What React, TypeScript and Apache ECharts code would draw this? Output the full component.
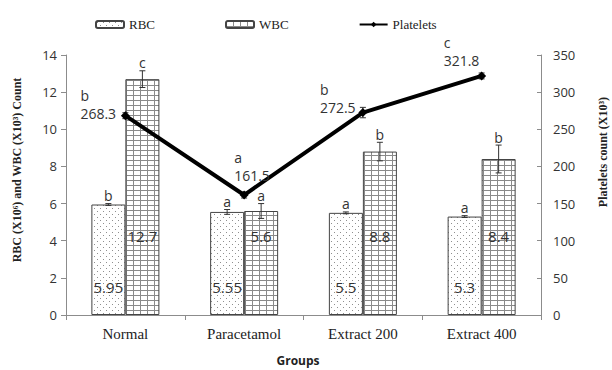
import React, { useEffect, useRef } from "react";
import * as echarts from "echarts";

const categories = ["Normal", "Paracetamol", "Extract 200", "Extract 400"];
const rbcValues = [5.95, 5.55, 5.5, 5.3];
const rbcErrors = [0.05, 0.13, 0.05, 0.05];
const rbcLetters = ["b", "a", "a", "a"];
const wbcValues = [12.7, 5.6, 8.8, 8.4];
const wbcErrors = [0.45, 0.4, 0.5, 0.75];
const wbcLetters = ["c", "a", "b", "b"];
const plateletValues = [268.3, 161.5, 272.5, 321.8];
const plateletErrors = [4, 4, 7, 4];
const plateletLetters = ["b", "a", "b", "c"];
const leftAxisMax = 14;
const leftAxisStep = 2;
const rightAxisMax = 350;
const rightAxisStep = 50;

// label placement (style only): offset of the value line relative to the point
const plateletLabelDx = [-45, -10, -43, -38];
const plateletLabelDy = [-2, -20, -5, -15];

const BAR_W = 34;
const SYM = 9;
const LH = 18;
const SERIF = "'Liberation Serif', 'Times New Roman', serif";
const SANS = "'Open Sans', 'Liberation Sans', sans-serif";

function dotPattern() {
  const c = document.createElement("canvas");
  c.width = 6;
  c.height = 6;
  const g = c.getContext("2d")!;
  g.fillStyle = "#ffffff";
  g.fillRect(0, 0, 6, 6);
  g.fillStyle = "#8f8f8f";
  g.fillRect(1, 1, 1, 1);
  g.fillRect(4, 4, 1, 1);
  return c;
}

function gridPattern() {
  const c = document.createElement("canvas");
  c.width = 7;
  c.height = 5;
  const g = c.getContext("2d")!;
  g.fillStyle = "#ffffff";
  g.fillRect(0, 0, 7, 5);
  g.fillStyle = "#8a8a8a";
  g.fillRect(0, 0, 1, 5);
  g.fillRect(0, 0, 7, 1);
  return c;
}

function errorSeries(
  name: string,
  values: number[],
  errors: number[],
  letters: string[] | null,
  offset: number,
  yAxisIndex: number
) {
  return {
    type: "custom",
    name,
    yAxisIndex,
    z: 10,
    silent: true,
    data: values.map((v, i) => [i, v, errors[i]]),
    renderItem: (params: any, api: any) => {
      const i = api.value(0);
      const v = api.value(1);
      const e = api.value(2);
      const c = api.coord([i, v]);
      const hi = api.coord([i, v + e]);
      const lo = api.coord([i, v - e]);
      const x = c[0] + offset;
      const st = { stroke: "#333", lineWidth: 1 };
      const children: any[] = [
        { type: "line", shape: { x1: x, y1: hi[1], x2: x, y2: lo[1] }, style: st },
        { type: "line", shape: { x1: x - 3, y1: hi[1], x2: x + 3, y2: hi[1] }, style: st },
        { type: "line", shape: { x1: x - 3, y1: lo[1], x2: x + 3, y2: lo[1] }, style: st },
      ];
      if (letters) {
        children.push({
          type: "text",
          style: {
            x,
            y: hi[1] - 1,
            text: letters[params.dataIndex],
            textAlign: "center",
            textVerticalAlign: "bottom",
            fill: "#333",
            font: `14px ${SANS}`,
          },
        });
      }
      return { type: "group", children };
    },
  };
}

export default function App() {
  const ref = useRef<HTMLDivElement>(null);
  useEffect(() => {
    if (!ref.current) return;
    const chart = echarts.init(ref.current, null, { renderer: "svg" });
    const dots = dotPattern();
    const grid = gridPattern();
    const rbcFill: any = { image: dots, repeat: "repeat", imageWidth: 6, imageHeight: 6 };
    const wbcFill: any = { image: grid, repeat: "repeat", imageWidth: 7, imageHeight: 5 };
    const axisLineStyle = { color: "#8c8c8c", width: 1 };

    chart.setOption({
      animation: false,
      backgroundColor: "#ffffff",
      legend: {
        left: 90,
        top: 13,
        itemWidth: 28,
        itemHeight: 7,
        itemGap: 70,
        textStyle: { fontFamily: SERIF, fontSize: 13, color: "#222" },
        data: ["RBC", "WBC", "Platelets"],
      },
      grid: { left: 66, right: 71, top: 55, bottom: 55 },
      xAxis: {
        type: "category",
        data: categories,
        axisLine: { lineStyle: axisLineStyle },
        axisTick: { show: true, length: 5, lineStyle: axisLineStyle },
        axisLabel: { fontFamily: SERIF, fontSize: 15, color: "#222", margin: 11 },
      },
      yAxis: [
        {
          type: "value",
          min: 0,
          max: leftAxisMax,
          interval: leftAxisStep,
          axisLine: { show: true, lineStyle: axisLineStyle },
          axisTick: { show: true, length: 5, lineStyle: axisLineStyle },
          splitLine: { show: false },
          axisLabel: { fontFamily: SANS, fontSize: 13, color: "#333", margin: 9 },
        },
        {
          type: "value",
          position: "right",
          min: 0,
          max: rightAxisMax,
          interval: rightAxisStep,
          axisLine: { show: true, lineStyle: axisLineStyle },
          axisTick: { show: true, inside: true, length: 4, lineStyle: axisLineStyle },
          splitLine: { show: false },
          axisLabel: { fontFamily: SANS, fontSize: 13, color: "#333", margin: 12 },
        },
      ],
      series: [
        {
          name: "RBC",
          type: "bar",
          barWidth: BAR_W,
          barGap: "0%",
          data: rbcValues,
          itemStyle: { color: rbcFill, borderColor: "#444", borderWidth: 1 },
          label: {
            show: true,
            position: "insideBottom",
            distance: 21,
            fontFamily: SANS,
            fontSize: 15,
            color: "#333",
          },
        },
        {
          name: "WBC",
          type: "bar",
          barWidth: BAR_W,
          barGap: "0%",
          data: wbcValues,
          itemStyle: { color: wbcFill, borderColor: "#444", borderWidth: 1 },
          label: {
            show: true,
            position: "insideBottom",
            distance: 72,
            fontFamily: SANS,
            fontSize: 15,
            color: "#333",
          },
        },
        {
          name: "Platelets",
          type: "line",
          yAxisIndex: 1,
          z: 12,
          data: plateletValues.map((v, i) => ({
            value: v,
            label: {
              position: [
                plateletLabelDx[i] + SYM / 2,
                plateletLabelDy[i] - LH * 1.5 + SYM / 2,
              ],
            },
          })),
          symbol: "diamond",
          symbolSize: SYM,
          lineStyle: { color: "#000", width: 4 },
          itemStyle: { color: "#000" },
          label: {
            show: true,
            align: "left",
            verticalAlign: "top",
            formatter: (p: any) => `{s|${plateletLetters[p.dataIndex]}}\n{v|${p.value}}`,
            rich: {
              s: { fontFamily: SANS, fontSize: 14, color: "#333", lineHeight: LH, align: "left" },
              v: { fontFamily: SANS, fontSize: 14, color: "#333", lineHeight: LH, align: "left" },
            },
          },
        },
        errorSeries("rbcErr", rbcValues, rbcErrors, rbcLetters, -BAR_W / 2, 0),
        errorSeries("wbcErr", wbcValues, wbcErrors, wbcLetters, BAR_W / 2, 0),
        errorSeries("pltErr", plateletValues, plateletErrors, null, 0, 1),
      ],
      graphic: [
        {
          type: "text",
          x: 17,
          y: 170,
          rotation: Math.PI / 2,
          style: {
            text: "RBC (X10⁶) and WBC (X10³) Count",
            textAlign: "center",
            textVerticalAlign: "middle",
            font: `bold 12px ${SERIF}`,
            fill: "#222",
          },
        },
        {
          type: "text",
          x: 603,
          y: 152,
          rotation: Math.PI / 2,
          style: {
            text: "Platelets count (X10³)",
            textAlign: "center",
            textVerticalAlign: "middle",
            font: `bold 12px ${SERIF}`,
            fill: "#222",
          },
        },
        {
          type: "text",
          x: 298,
          y: 360,
          style: {
            text: "Groups",
            textAlign: "center",
            textVerticalAlign: "middle",
            font: `bold 12px ${SANS}`,
            fill: "#222",
          },
        },
      ],
    });
    return () => chart.dispose();
  }, []);
  return (
    <div
      ref={ref}
      style={{ position: "absolute", left: 0, top: 0, width: 612, height: 370 }}
    />
  );
}
